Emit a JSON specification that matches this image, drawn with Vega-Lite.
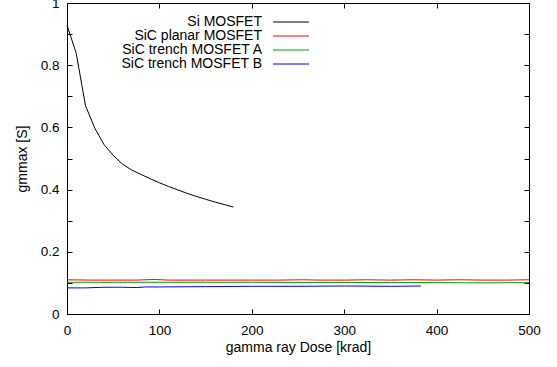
{
  "$schema": "https://vega.github.io/schema/vega-lite/v6.json",
  "width": 462,
  "height": 311,
  "autosize": "none",
  "padding": {"left": 67, "top": 3, "right": 28, "bottom": 53},
  "background": "white",
  "config": {
    "font": "Liberation Sans",
    "view": {"stroke": "black", "strokeWidth": 1},
    "axis": {"grid": false, "domain": false, "tickColor": "black", "tickSize": -5, "labelColor": "black", "titleColor": "black", "labelFont": "Liberation Sans", "titleFont": "Liberation Sans", "labelFontSize": 13.5, "titleFontSize": 14, "titleFontWeight": "normal", "labelFlush": false, "labelOverlap": false}
  },
  "data": {"values": [
    {"series": "Si MOSFET", "dose": 0, "gm": 0.929},
    {"series": "Si MOSFET", "dose": 10, "gm": 0.838},
    {"series": "Si MOSFET", "dose": 20, "gm": 0.67},
    {"series": "Si MOSFET", "dose": 30, "gm": 0.598},
    {"series": "Si MOSFET", "dose": 40, "gm": 0.545},
    {"series": "Si MOSFET", "dose": 50, "gm": 0.51},
    {"series": "Si MOSFET", "dose": 60, "gm": 0.482},
    {"series": "Si MOSFET", "dose": 70, "gm": 0.463},
    {"series": "Si MOSFET", "dose": 80, "gm": 0.449},
    {"series": "Si MOSFET", "dose": 90, "gm": 0.435},
    {"series": "Si MOSFET", "dose": 100, "gm": 0.422},
    {"series": "Si MOSFET", "dose": 110, "gm": 0.41},
    {"series": "Si MOSFET", "dose": 120, "gm": 0.399},
    {"series": "Si MOSFET", "dose": 130, "gm": 0.388},
    {"series": "Si MOSFET", "dose": 140, "gm": 0.378},
    {"series": "Si MOSFET", "dose": 150, "gm": 0.369},
    {"series": "Si MOSFET", "dose": 160, "gm": 0.36},
    {"series": "Si MOSFET", "dose": 170, "gm": 0.352},
    {"series": "Si MOSFET", "dose": 180, "gm": 0.344},
    {"series": "SiC planar MOSFET", "dose": 0, "gm": 0.11},
    {"series": "SiC planar MOSFET", "dose": 25, "gm": 0.109},
    {"series": "SiC planar MOSFET", "dose": 50, "gm": 0.109},
    {"series": "SiC planar MOSFET", "dose": 75, "gm": 0.109},
    {"series": "SiC planar MOSFET", "dose": 95, "gm": 0.111},
    {"series": "SiC planar MOSFET", "dose": 110, "gm": 0.109},
    {"series": "SiC planar MOSFET", "dose": 150, "gm": 0.109},
    {"series": "SiC planar MOSFET", "dose": 200, "gm": 0.109},
    {"series": "SiC planar MOSFET", "dose": 230, "gm": 0.109},
    {"series": "SiC planar MOSFET", "dose": 255, "gm": 0.110},
    {"series": "SiC planar MOSFET", "dose": 275, "gm": 0.109},
    {"series": "SiC planar MOSFET", "dose": 300, "gm": 0.109},
    {"series": "SiC planar MOSFET", "dose": 325, "gm": 0.110},
    {"series": "SiC planar MOSFET", "dose": 350, "gm": 0.109},
    {"series": "SiC planar MOSFET", "dose": 375, "gm": 0.110},
    {"series": "SiC planar MOSFET", "dose": 400, "gm": 0.109},
    {"series": "SiC planar MOSFET", "dose": 425, "gm": 0.110},
    {"series": "SiC planar MOSFET", "dose": 450, "gm": 0.109},
    {"series": "SiC planar MOSFET", "dose": 475, "gm": 0.109},
    {"series": "SiC planar MOSFET", "dose": 500, "gm": 0.110},
    {"series": "SiC trench MOSFET A", "dose": 0, "gm": 0.102},
    {"series": "SiC trench MOSFET A", "dose": 50, "gm": 0.102},
    {"series": "SiC trench MOSFET A", "dose": 100, "gm": 0.102},
    {"series": "SiC trench MOSFET A", "dose": 150, "gm": 0.102},
    {"series": "SiC trench MOSFET A", "dose": 200, "gm": 0.102},
    {"series": "SiC trench MOSFET A", "dose": 250, "gm": 0.1015},
    {"series": "SiC trench MOSFET A", "dose": 300, "gm": 0.1015},
    {"series": "SiC trench MOSFET A", "dose": 350, "gm": 0.101},
    {"series": "SiC trench MOSFET A", "dose": 400, "gm": 0.101},
    {"series": "SiC trench MOSFET A", "dose": 450, "gm": 0.1},
    {"series": "SiC trench MOSFET A", "dose": 500, "gm": 0.101},
    {"series": "SiC trench MOSFET B", "dose": 0, "gm": 0.084},
    {"series": "SiC trench MOSFET B", "dose": 20, "gm": 0.084},
    {"series": "SiC trench MOSFET B", "dose": 40, "gm": 0.086},
    {"series": "SiC trench MOSFET B", "dose": 60, "gm": 0.086},
    {"series": "SiC trench MOSFET B", "dose": 75, "gm": 0.085},
    {"series": "SiC trench MOSFET B", "dose": 85, "gm": 0.087},
    {"series": "SiC trench MOSFET B", "dose": 100, "gm": 0.087},
    {"series": "SiC trench MOSFET B", "dose": 150, "gm": 0.088},
    {"series": "SiC trench MOSFET B", "dose": 200, "gm": 0.089},
    {"series": "SiC trench MOSFET B", "dose": 250, "gm": 0.089},
    {"series": "SiC trench MOSFET B", "dose": 300, "gm": 0.090},
    {"series": "SiC trench MOSFET B", "dose": 350, "gm": 0.089},
    {"series": "SiC trench MOSFET B", "dose": 383, "gm": 0.090}
  ]},
  "layer": [
    {
      "mark": {"type": "line", "strokeWidth": 1},
      "encoding": {
        "x": {"field": "dose", "type": "quantitative", "scale": {"domain": [0, 500], "nice": false},
              "axis": {"orient": "bottom", "title": "gamma ray Dose [krad]", "values": [0, 100, 200, 300, 400, 500], "labelPadding": 14, "titlePadding": 4}},
        "y": {"field": "gm", "type": "quantitative", "scale": {"domain": [0, 1], "nice": false},
              "axis": {"orient": "left", "title": "gmmax [S]", "values": [0, 0.1, 0.2, 0.3, 0.4, 0.5, 0.6, 0.7, 0.8, 0.9, 1], "format": ".1~f", "labelExpr": "round(datum.value*10) % 2 == 0 ? datum.label : ''", "labelPadding": 13, "titlePadding": 11}},
        "color": {"field": "series", "type": "nominal",
                  "scale": {"domain": ["Si MOSFET", "SiC planar MOSFET", "SiC trench MOSFET A", "SiC trench MOSFET B"], "range": ["#000000", "#ff0000", "#00a000", "#0000ff"]},
                  "legend": {"title": null, "orient": "none", "legendX": 217, "legendY": 12, "padding": 0, "symbolType": "M-4,0H4", "symbolSize": 81, "symbolStrokeWidth": 1, "labelAlign": "right", "labelOffset": -36, "labelFontSize": 14, "labelFont": "Liberation Sans", "labelColor": "black", "rowPadding": 0, "labelLimit": 300}},
        "detail": {"field": "series"}
      }
    },
    {
      "mark": {"type": "line", "opacity": 0},
      "encoding": {
        "x": {"field": "dose", "type": "quantitative", "axis": {"orient": "top", "title": null, "labels": false, "values": [0, 100, 200, 300, 400, 500]}},
        "y": {"field": "gm", "type": "quantitative", "axis": {"orient": "right", "title": null, "labels": false, "values": [0, 0.1, 0.2, 0.3, 0.4, 0.5, 0.6, 0.7, 0.8, 0.9, 1]}},
        "detail": {"field": "series"}
      }
    }
  ],
  "resolve": {"axis": {"x": "independent", "y": "independent"}}
}
